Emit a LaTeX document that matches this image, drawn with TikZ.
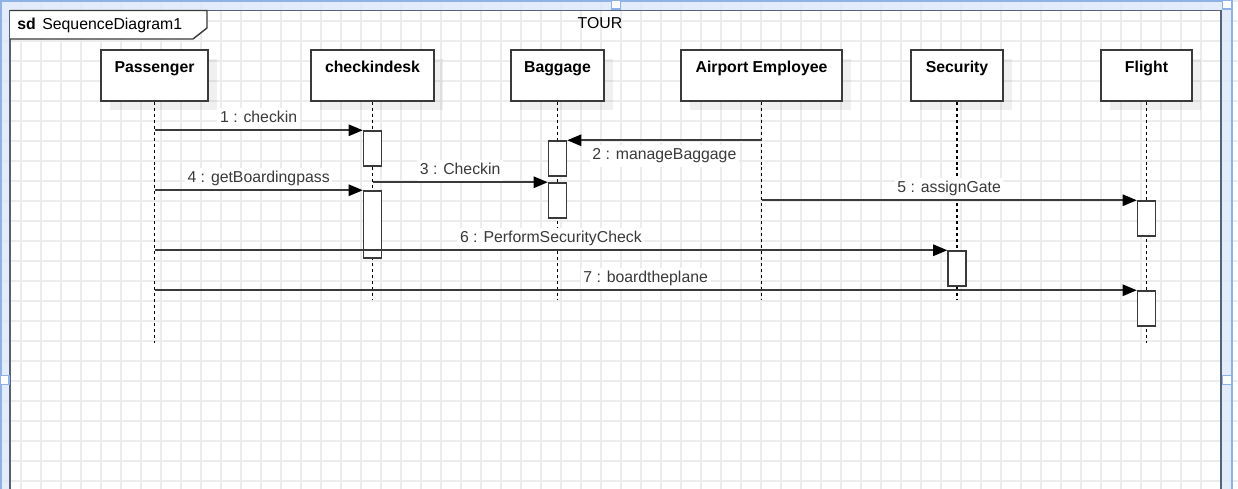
\documentclass[tikz,border=0pt]{standalone}
\usepackage{fontspec}
\setmainfont{Liberation Sans}
\usepackage{tikz}
\usetikzlibrary{arrows.meta,shadows}
\definecolor{gridgray}{HTML}{ECECEC}
\definecolor{selband}{HTML}{DCE8FA}
\definecolor{selline}{HTML}{8FB2E6}
\definecolor{framegray}{HTML}{56627A}
\definecolor{linegray}{HTML}{3A3A3A}

\begin{document}
\begin{tikzpicture}[x=0.02cm,y=-0.02cm,
    every node/.style={font=\fontsize{9pt}{11pt}\selectfont},
    lifebox/.style={draw=linegray, line width=0.9pt, fill=white, inner sep=0pt,
      text height=0.45cm, text depth=0.57cm,
      font=\fontsize{9pt}{11pt}\selectfont\bfseries,
      drop shadow={shadow xshift=0.18cm, shadow yshift=-0.18cm, fill=black, opacity=0.06}},
    actbar/.style={draw=linegray, line width=0.85pt, fill=white, minimum width=0.36cm, inner sep=0pt},
    lifeline/.style={black, line width=0.6pt, dash pattern=on 1.7pt off 1.7pt},
    msg/.style={linegray, line width=0.9pt, -{Triangle[length=8pt,width=6.5pt,color=black]}},
    msglbl/.style={fill=white, inner sep=1.5pt, text height=6.6pt, text depth=2.5pt}]
  \useasboundingbox (0,0) rectangle (1238,489);
  \fill[white] (0,0) rectangle (1238,489);
  % grid
  \foreach \gx in {1,21,...,1238}
    \draw[gridgray, line width=0.8pt] (\gx,0) -- (\gx,489);
  \foreach \gy in {1,21,...,489}
    \draw[gridgray, line width=0.8pt] (0,\gy) -- (1238,\gy);
  % selection bands
  \fill[selband, opacity=0.8] (0,0) rectangle (1232,10);
  \fill[selband, opacity=0.8] (0,10) rectangle (10,489);
  \fill[selband, opacity=0.8] (1221,10) rectangle (1232,489);
  \draw[selline, line width=0.7pt] (0,1) -- (1232,1) -- (1232,489);
  \draw[selline, line width=0.7pt] (1,1) -- (1,489);
  % frame
  \draw[framegray, line width=1pt] (10,489) -- (10,10.5) -- (1221,10.5) -- (1221,489);
  \draw[linegray, line width=0.8pt, fill=white] (10,10.5) -- (207,10.5) -- (207,28) -- (193,39) -- (10,39);
  \node[anchor=base west, inner sep=0pt, font=\fontsize{9pt}{11pt}\selectfont\bfseries] (sdtag) at (17,30) {sd};
  \node[anchor=base west, inner sep=0pt] (sdname) at (42,30) {SequenceDiagram1};
  \node[anchor=base, inner sep=0pt] (tour) at (600,29) {TOUR};

  % lifeline heads
  \node[lifebox, minimum width=2.14cm] (pass) at (154.5,75.5) {Passenger};
  \node[lifebox, minimum width=2.46cm] (ck) at (372.5,75.5) {checkindesk};
  \node[lifebox, minimum width=1.86cm] (bag) at (557.5,75.5) {Baggage};
  \node[lifebox, minimum width=3.22cm] (ae) at (761.5,75.5) {Airport Employee};
  \node[lifebox, minimum width=1.84cm] (sec) at (957,75.5) {Security};
  \node[lifebox, minimum width=1.82cm] (fl) at (1146.5,75.5) {Flight};

  % lifelines
  \coordinate (pass end) at (154.5,343);
  \coordinate (ck end) at (372.5,300);
  \coordinate (bag end) at (557.5,300);
  \coordinate (ae end) at (761.5,300);
  \coordinate (sec end) at (957,300);
  \coordinate (fl end) at (1146.5,343);
  \foreach \ll in {pass,ck,bag,ae,sec,fl}
    \draw[lifeline] (\ll.south) -- (\ll\space end);

  % activations
  \node[actbar, minimum height=0.70cm] (ck1) at (372.5,148.5) {};
  \node[actbar, minimum height=1.34cm] (ck2) at (372.5,224.5) {};
  \node[actbar, minimum height=0.70cm] (bg1) at (557.5,158.5) {};
  \node[actbar, minimum height=0.70cm] (bg2) at (557.5,200.5) {};
  \node[actbar, minimum height=0.70cm] (sc1) at (957,268.5) {};
  \node[actbar, minimum height=0.70cm] (fl1) at (1146.5,218.5) {};
  \node[actbar, minimum height=0.70cm] (fl2) at (1146.5,308.5) {};

  % messages
  \draw[msg] (pass |- ck1.north west) -- (ck1.north west)
    node[msglbl, midway, above] (m1) {1 : checkin};
  \draw[msg] (ae |- bg1.north east) -- (bg1.north east)
    node[msglbl, midway, below, yshift=-2.5pt] (m2) {2 : manageBaggage};
  \draw[msg] (ck |- bg2.north west) -- (bg2.north west)
    node[msglbl, midway, above] (m3) {3 : Checkin};
  \draw[msg] (pass |- ck2.north west) -- (ck2.north west)
    node[msglbl, midway, above] (m4) {4 : getBoardingpass};
  \draw[msg] (ae |- fl1.north west) -- (fl1.north west)
    node[msglbl, midway, above] (m5) {5 : assignGate};
  \draw[msg] (pass |- sc1.north west) -- (sc1.north west)
    node[msglbl, midway, above] (m6) {6 : PerformSecurityCheck};
  \draw[msg] (pass |- fl2.north west) -- (fl2.north west)
    node[msglbl, midway, above] (m7) {7 : boardtheplane};

  % handles
  \foreach \hx/\hy in {616/4.5, 1227/4.5, 4.5/380, 1227/380}
    \draw[selline, line width=0.7pt, fill=white] (\hx-4.5,\hy-4.5) rectangle (\hx+4.5,\hy+4.5);
\end{tikzpicture}
\end{document}
